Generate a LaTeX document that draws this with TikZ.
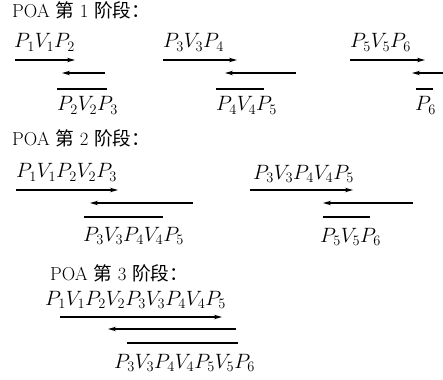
\documentclass[tikz,border=0pt]{standalone}
\usepackage{fontspec}
\newfontfamily\cjk{Noto Sans CJK SC}
\usetikzlibrary{arrows.meta}
\begin{document}
\begin{tikzpicture}[x=1pt,y=-1pt,
  lbl/.style={anchor=base west,inner sep=0pt,font=\fontsize{20.74}{24}\selectfont},
  ttl/.style={anchor=base west,inner sep=0pt,font=\fontsize{18.7}{22}\selectfont},
  arr/.style={line width=1.3pt,-{Stealth[length=8pt,width=4.5pt]}},
  bar/.style={line width=1.3pt}]
\useasboundingbox (0,0) rectangle (443,379);
\clip (0,0) rectangle (443,379);
% ---- stage 1
\node[ttl] (t1) at (12,18) {POA {\cjk 第} 1 {\cjk 阶段：}};
\node[lbl] (a1) at (14,48) {$P_1V_1P_2$};
\node[lbl] (b1) at (57,111) {$P_2V_2P_3$};
\coordinate (a1s) at (15,60);  \coordinate (a1e) at (75,60);
\coordinate (b1s) at (105,73); \coordinate (b1e) at (62,73);
\coordinate (c1s) at (57,89);  \coordinate (c1e) at (107,89);
\draw[arr] (a1s) -- (a1e);
\draw[arr] (b1s) -- (b1e);
\draw[bar] (c1s) -- (c1e);
\node[lbl] (a2) at (163,48) {$P_3V_3P_4$};
\node[lbl] (b2) at (216,111) {$P_4V_4P_5$};
\coordinate (a2s) at (163,60);  \coordinate (a2e) at (237,60);
\coordinate (b2s) at (296,73);  \coordinate (b2e) at (225,73);
\coordinate (c2s) at (216,89);  \coordinate (c2e) at (264,89);
\draw[arr] (a2s) -- (a2e);
\draw[arr] (b2s) -- (b2e);
\draw[bar] (c2s) -- (c2e);
\node[lbl] (a3) at (350,48) {$P_5V_5P_6$};
\node[lbl] (b3) at (415,111) {$P_6$};
\coordinate (a3s) at (350,60);  \coordinate (a3e) at (425,60);
\coordinate (b3s) at (460,73);  \coordinate (b3e) at (412,73);
\coordinate (c3s) at (416,89);  \coordinate (c3e) at (433,89);
\draw[arr] (a3s) -- (a3e);
\draw[arr] (b3s) -- (b3e);
\draw[bar] (c3s) -- (c3e);
% ---- stage 2
\node[ttl] (t2) at (12,146) {POA {\cjk 第} 2 {\cjk 阶段：}};
\node[lbl] (d1) at (16,178) {$P_1V_1P_2V_2P_3$};
\node[lbl] (e1) at (83,241) {$P_3V_3P_4V_4P_5$};
\coordinate (d1s) at (16,190);  \coordinate (d1e) at (118,190);
\coordinate (e1s) at (193,203); \coordinate (e1e) at (90,203);
\coordinate (f1s) at (84,217);  \coordinate (f1e) at (163,217);
\draw[arr] (d1s) -- (d1e);
\draw[arr] (e1s) -- (e1e);
\draw[bar] (f1s) -- (f1e);
\node[lbl] (d2) at (253,179) {$P_3V_3P_4V_4P_5$};
\node[lbl] (e2) at (320,242) {$P_5V_5P_6$};
\coordinate (d2s) at (250,190);  \coordinate (d2e) at (353,190);
\coordinate (e2s) at (413,203);  \coordinate (e2e) at (323,203);
\coordinate (f2s) at (323,217);  \coordinate (f2e) at (370,217);
\draw[arr] (d2s) -- (d2e);
\draw[arr] (e2s) -- (e2e);
\draw[bar] (f2s) -- (f2e);
% ---- stage 3
\node[ttl] (t3) at (50,280) {POA {\cjk 第} 3 {\cjk 阶段：}};
\node[lbl] (g1) at (45,305) {$P_1V_1P_2V_2P_3V_3P_4V_4P_5$};
\node[lbl] (h1) at (114,368) {$P_3V_3P_4V_4P_5V_5P_6$};
\coordinate (g1s) at (60,317);  \coordinate (g1e) at (222,317);
\coordinate (h1s) at (236,329); \coordinate (h1e) at (108,329);
\coordinate (k1s) at (127,343); \coordinate (k1e) at (238,343);
\draw[arr] (g1s) -- (g1e);
\draw[arr] (h1s) -- (h1e);
\draw[bar] (k1s) -- (k1e);
\end{tikzpicture}
\end{document}
